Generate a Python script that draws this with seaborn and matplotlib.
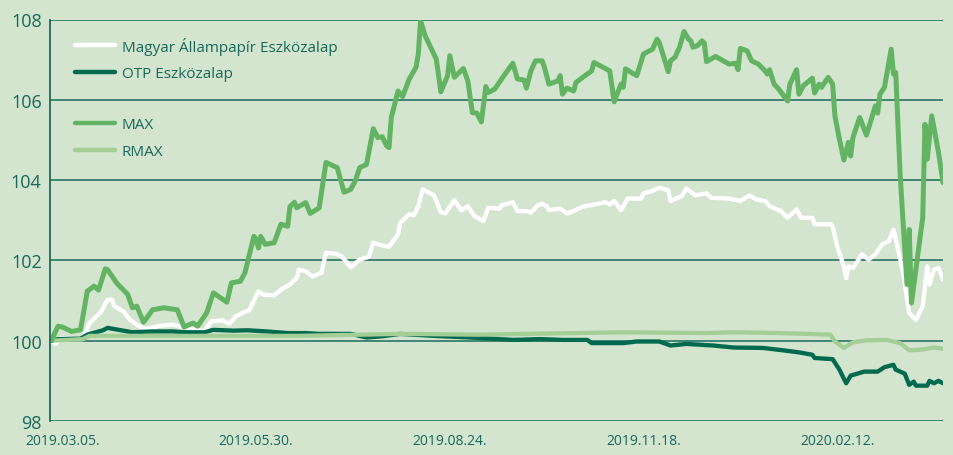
import matplotlib
matplotlib.use("Agg")
import matplotlib.pyplot as plt
from matplotlib.lines import Line2D
import seaborn as sns
import pandas as pd
import numpy as np

# ---- data (days counted from 2019-03-05) ----
BASE_DATE = "2019-03-05"

max_days = [-5, -2, 0, 4, 8, 11, 14, 16, 19, 20, 24, 29, 31, 33, 36, 40, 45, 51, 54, 58, 60, 64, 67, 73, 75,
            79, 81, 85, 86, 87, 88, 90, 94, 97, 100, 101, 103, 104, 108, 110, 114, 117, 122, 125, 128, 130,
            132, 135, 138, 140, 142, 144, 145, 146, 149, 151, 154, 157, 158, 159, 161, 166, 168, 171, 172,
            174, 178, 180, 182, 184, 186, 188, 189, 192, 196, 200, 202, 205, 206, 208, 210, 213, 214, 216,
            220, 221, 222, 224, 227, 228, 231, 235, 236, 243, 245, 248, 249, 250, 255, 258, 262, 264, 265,
            269, 270, 272, 274, 276, 278, 279, 280, 282, 284, 285, 286, 290, 296, 299, 300, 301, 304, 306,
            309, 312, 313, 314, 316, 318, 322, 323, 326, 327, 329, 333, 334, 336, 337, 340, 342, 343, 345,
            347, 349, 350, 351, 354, 357, 361, 362, 363, 365, 368, 369, 370, 372, 375, 376, 377, 382, 383,
            384, 386, 389, 391]
max_vals = [100.00, 100.36, 100.34, 100.23, 100.27, 101.23, 101.36, 101.26, 101.79, 101.77, 101.44, 101.15,
            100.82, 100.86, 100.46, 100.77, 100.82, 100.77, 100.34, 100.44, 100.36, 100.69, 101.19, 100.96,
            101.44, 101.48, 101.69, 102.60, 102.52, 102.31, 102.60, 102.40, 102.44, 102.90, 102.85, 103.34,
            103.45, 103.31, 103.44, 103.17, 103.31, 104.44, 104.31, 103.70, 103.77, 103.98, 104.31, 104.39,
            105.28, 105.06, 105.08, 104.85, 104.81, 105.56, 106.22, 106.08, 106.52, 106.81, 107.14, 107.97,
            107.60, 107.01, 106.20, 106.60, 107.10, 106.56, 106.78, 106.47, 105.68, 105.67, 105.45, 106.33,
            106.18, 106.27, 106.60, 106.91, 106.52, 106.49, 106.29, 106.72, 106.97, 106.97, 106.81, 106.39,
            106.47, 106.60, 106.14, 106.29, 106.22, 106.43, 106.56, 106.72, 106.93, 106.72, 105.95, 106.39,
            106.31, 106.77, 106.60, 107.14, 107.26, 107.51, 107.43, 106.70, 106.97, 107.06, 107.31, 107.70,
            107.51, 107.47, 107.31, 107.35, 107.47, 107.41, 106.95, 107.08, 106.89, 106.91, 106.75, 107.28,
            107.22, 106.97, 106.89, 106.72, 106.64, 106.75, 106.39, 106.27, 105.97, 106.39, 106.75, 106.14,
            106.35, 106.54, 106.17, 106.39, 106.31, 106.56, 106.39, 105.60, 105.02, 104.50, 104.94, 104.60,
            105.06, 105.56, 105.12, 105.85, 105.67, 106.14, 106.31, 107.26, 106.64, 106.68, 104.10, 101.40,
            102.77, 100.94, 103.07, 105.39, 104.52, 105.60, 104.69, 103.94]

map_days = [-5, -3, -1, 5, 9, 12, 17, 20, 22, 23, 27, 30, 34, 37, 43, 49, 54, 60, 63, 66, 71, 74, 77, 83, 87,
            89, 94, 97, 101, 104, 105, 108, 111, 115, 117, 121, 124, 128, 132, 136, 138, 142, 145, 149, 150,
            154, 156, 158, 160, 165, 168, 170, 174, 177, 180, 183, 187, 189, 194, 195, 200, 202, 206, 208,
            211, 213, 215, 216, 221, 224, 227, 231, 236, 241, 243, 245, 248, 251, 257, 258, 262, 265, 269,
            270, 273, 275, 277, 281, 286, 288, 296, 301, 305, 308, 312, 314, 319, 322, 326, 328, 333, 334,
            341, 342, 344, 347, 348, 349, 351, 355, 358, 361, 364, 367, 369, 370, 373, 376, 379, 382, 384,
            385, 387, 389, 391]
map_vals = [100.00, 99.92, 100.07, 100.04, 100.04, 100.44, 100.71, 101.02, 101.02, 100.86, 100.73, 100.52,
            100.36, 100.29, 100.37, 100.40, 100.32, 100.27, 100.23, 100.48, 100.51, 100.42, 100.61, 100.77,
            101.23, 101.15, 101.13, 101.27, 101.40, 101.56, 101.77, 101.73, 101.60, 101.69, 102.19, 102.17,
            102.10, 101.83, 102.02, 102.09, 102.44, 102.37, 102.34, 102.65, 102.94, 103.15, 103.12, 103.35,
            103.77, 103.62, 103.20, 103.17, 103.50, 103.25, 103.35, 103.10, 102.98, 103.31, 103.29, 103.37,
            103.45, 103.23, 103.23, 103.19, 103.37, 103.41, 103.35, 103.25, 103.29, 103.17, 103.23, 103.34,
            103.39, 103.45, 103.39, 103.48, 103.25, 103.54, 103.54, 103.67, 103.73, 103.81, 103.75, 103.48,
            103.56, 103.60, 103.79, 103.62, 103.67, 103.56, 103.54, 103.48, 103.62, 103.52, 103.48, 103.35,
            103.23, 103.06, 103.27, 103.06, 103.06, 102.90, 102.90, 102.85, 102.35, 101.85, 101.56, 101.85,
            101.81, 102.15, 102.02, 102.15, 102.40, 102.48, 102.77, 102.54, 101.77, 100.69, 100.52, 100.86,
            101.85, 101.40, 101.77, 101.81, 101.52]

otp_days = [-5, -2, 8, 11, 18, 20, 26, 31, 39, 49, 55, 63, 67, 76, 82, 91, 100, 108, 114, 128, 135, 142, 150,
            165, 185, 200, 212, 222, 233, 235, 249, 255, 265, 270, 277, 289, 298, 311, 320, 327, 333, 334,
            342, 345, 348, 350, 356, 362, 365, 369, 370, 374, 376, 378, 379, 384, 385, 387, 389, 391]
otp_vals = [100.00, 100.04, 100.05, 100.15, 100.26, 100.32, 100.26, 100.21, 100.23, 100.23, 100.21, 100.21,
            100.27, 100.25, 100.26, 100.23, 100.19, 100.19, 100.17, 100.17, 100.08, 100.11, 100.17, 100.12,
            100.07, 100.02, 100.04, 100.02, 100.02, 99.94, 99.94, 99.98, 99.98, 99.88, 99.92, 99.88, 99.83,
            99.82, 99.76, 99.71, 99.65, 99.57, 99.54, 99.28, 98.94, 99.13, 99.23, 99.23, 99.34, 99.40, 99.28,
            99.18, 98.90, 98.98, 98.88, 98.88, 99.00, 98.94, 99.00, 98.94]

rmax_days = [-5, 9, 12, 31, 61, 105, 150, 185, 249, 286, 298, 319, 341, 343, 347, 351, 357, 366, 372, 376,
             382, 387, 391]
rmax_vals = [100.00, 100.04, 100.12, 100.12, 100.12, 100.12, 100.17, 100.15, 100.21, 100.19, 100.21, 100.19,
             100.15, 99.98, 99.82, 99.96, 100.01, 100.02, 99.94, 99.76, 99.78, 99.83, 99.80]

series_names = ["Magyar Állampapír Eszközalap", "OTP Eszközalap", "MAX", "RMAX"]
tick_dates = ["2019-03-05", "2019-05-30", "2019-08-24", "2019-11-18", "2020-02-12"]
tick_labels = ["2019.03.05.", "2019.05.30.", "2019.08.24.", "2019.11.18.", "2020.02.12."]
y_ticks = [98, 100, 102, 104, 106, 108]

# ---- style ----
BG = "#d3e5cf"
TEXT = "#17695a"
GRID = "#1b6b5b"
COLORS = {"Magyar Állampapír Eszközalap": "#ffffff", "OTP Eszközalap": "#006a4e",
          "MAX": "#62b462", "RMAX": "#a3cf96"}
WIDTHS = {"Magyar Állampapír Eszközalap": 3.1, "OTP Eszközalap": 3.1, "MAX": 3.6, "RMAX": 3.1}

sns.set_theme(style="white")
plt.rcParams["font.family"] = ["Open Sans", "DejaVu Sans"]

base = pd.Timestamp(BASE_DATE)


def frame(days, vals, name):
    return pd.DataFrame({"date": base + pd.to_timedelta(days, unit="D"), "value": vals, "series": name})


frames = {
    series_names[0]: frame(map_days, map_vals, series_names[0]),
    series_names[1]: frame(otp_days, otp_vals, series_names[1]),
    series_names[2]: frame(max_days, max_vals, series_names[2]),
    series_names[3]: frame(rmax_days, rmax_vals, series_names[3]),
}

fig = plt.figure(figsize=(9.54, 4.56), dpi=100, facecolor=BG)
ax = fig.add_axes([50 / 954, 1 - 422 / 456, 893 / 954, 401.5 / 456])
ax.set_facecolor(BG)

# gridlines
for yv in y_ticks:
    ax.axhline(yv, color=GRID, lw=1.1, zorder=1)

draw_order = [series_names[0], series_names[1], series_names[3], series_names[2]]
for i, name in enumerate(draw_order):
    sns.lineplot(data=frames[name], x="date", y="value", ax=ax, color=COLORS[name],
                 linewidth=WIDTHS[name], estimator=None, legend=False, zorder=3 + i)
for ln in ax.lines:
    ln.set_solid_joinstyle("round")
    ln.set_solid_capstyle("round")

ax.set_xlim(base + pd.Timedelta(days=-5.55), base + pd.Timedelta(days=391.0))
ax.set_ylim(98, 108)
ax.set_yticks(y_ticks)
ax.set_yticklabels([str(v) for v in y_ticks])
ax.set_xticks(pd.to_datetime(tick_dates))
ax.set_xticklabels(tick_labels)
ax.tick_params(axis="y", length=0, pad=6, labelsize=13, colors=TEXT)
ax.tick_params(axis="x", length=0, pad=9, labelsize=10, colors=TEXT)
ax.set_xlabel("")
ax.set_ylabel("")
for s in ["top", "right", "bottom"]:
    ax.spines[s].set_visible(False)
ax.spines["left"].set_color(GRID)
ax.spines["left"].set_linewidth(1.3)
ax.spines["left"].set_zorder(10)

# legends (two groups)
def handles(names):
    return [Line2D([0], [0], color=COLORS[n], lw=3.2) for n in names]

leg_kw = dict(frameon=False, fontsize=11, handlelength=2.6, handletextpad=0.45, labelspacing=0.75,
              borderpad=0, borderaxespad=0, loc="upper left", labelcolor=TEXT)
leg1 = ax.legend(handles(series_names[:2]), series_names[:2], bbox_to_anchor=(0.028, 0.957), **leg_kw)
ax.add_artist(leg1)
leg2 = ax.legend(handles(series_names[2:]), series_names[2:], bbox_to_anchor=(0.028, 0.756), **leg_kw)

fig.savefig("out.png", dpi=100, facecolor=BG)
